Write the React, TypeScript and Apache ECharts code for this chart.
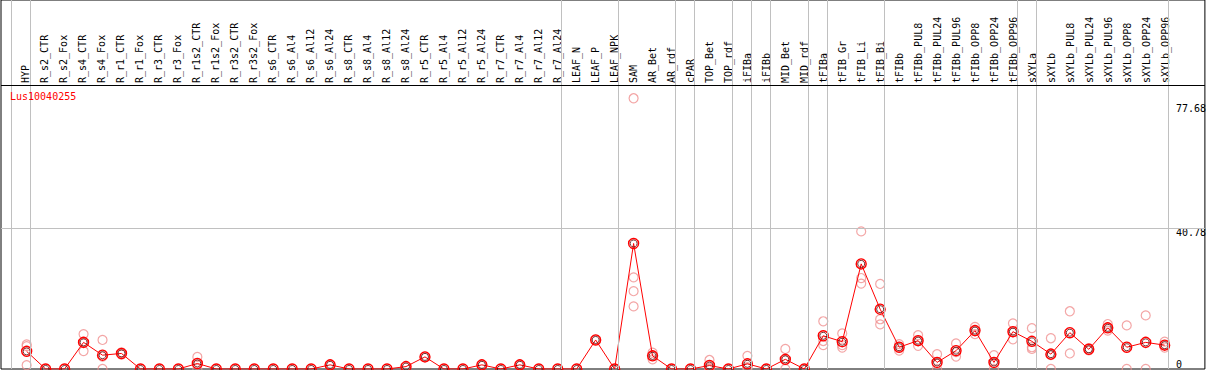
import React, { useEffect, useRef } from "react";
import * as echarts from "echarts";

const categories: string[] = [
  "HYP",
  "R_s2_CTR", "R_s2_Fox", "R_s4_CTR", "R_s4_Fox", "R_r1_CTR", "R_r1_Fox", "R_r3_CTR", "R_r3_Fox",
  "R_r1s2_CTR", "R_r1s2_Fox", "R_r3s2_CTR", "R_r3s2_Fox",
  "R_s6_CTR", "R_s6_Al4", "R_s6_Al12", "R_s6_Al24",
  "R_s8_CTR", "R_s8_Al4", "R_s8_Al12", "R_s8_Al24",
  "R_r5_CTR", "R_r5_Al4", "R_r5_Al12", "R_r5_Al24",
  "R_r7_CTR", "R_r7_Al4", "R_r7_Al12", "R_r7_Al24",
  "LEAF_N", "LEAF_P", "LEAF_NPK",
  "SAM", "AR_Bet", "AR_rdf",
  "cPAR",
  "TOP_Bet", "TOP_rdf",
  "iFIBa",
  "iFIBb",
  "MID_Bet", "MID_rdf",
  "tFIBa",
  "tFIB_Gr", "tFIB_Li", "tFIB_Bi",
  "tFIBb", "tFIBb_PUL8", "tFIBb_PUL24", "tFIBb_PUL96", "tFIBb_OPP8", "tFIBb_OPP24", "tFIBb_OPP96",
  "sXYLa",
  "sXYLb", "sXYLb_PUL8", "sXYLb_PUL24", "sXYLb_PUL96", "sXYLb_OPP8", "sXYLb_OPP24", "sXYLb_OPP96",
];

// number of categories in each tissue group (separators drawn after each group)
const groupSizes: number[] = [1, 28, 3, 3, 1, 2, 1, 1, 2, 1, 3, 7, 1, 7];

const means: number[] = [
  5.1,
  0, 0, 7.7, 4.0, 4.5, 0, 0, 0,
  1.6, 0, 0, 0,
  0, 0, 0, 1.2,
  0, 0, 0, 0.7,
  3.5, 0, 0, 1.2,
  0, 1.2, 0, 0,
  0, 8.4, 0,
  36.3, 3.8, 0,
  0,
  1.0, 0,
  1.5,
  0,
  2.8, 0,
  9.6,
  7.9, 30.4, 17.3,
  6.3, 8.2, 1.9, 5.3, 11.1, 1.9, 10.8,
  8.0,
  4.3, 10.5, 5.7, 11.9, 6.3, 7.7, 6.9,
];

const replicates: number[][] = [
  [7.1, 6.6, 1.1],
  [], [], [10.1, 7.8, 5.2], [8.4, 3.6, 0], [4.8, 4.5, 4.2], [], [], [],
  [3.5, 1.3, 0], [], [], [],
  [], [], [], [1.2],
  [], [], [], [0.7],
  [3.5], [], [], [1.2],
  [], [1.2], [], [],
  [], [8.4], [],
  [78.3, 26.5, 22.5, 18.1], [4.7, 3.8, 2.8], [],
  [],
  [2.6, 0.4, 0], [],
  [3.8, 0.5, 0.2],
  [],
  [5.8, 2.6, 0], [],
  [13.8, 8.1, 6.9],
  [10.3, 6.9, 6.2], [39.8, 26.3, 24.7], [24.6, 14.4, 12.9],
  [7.2, 6.4, 5.3], [9.8, 8.1, 6.7], [4.3, 1.5, 0], [7.4, 4.9, 3.6], [12.2, 11.0, 10.1], [4.0, 1.7, 0], [13.2, 10.6, 8.6],
  [11.8, 6.3, 5.8],
  [8.9, 4.0, 0], [16.7, 4.5], [6.0, 5.4], [13.0, 11.9, 11.1], [12.6, 0], [15.5, 0], [7.9, 6.9, 6.2],
];

const yTopLabel: number[] = [77.68];
const yMidLabel: number[] = [40.78];
const yZeroLabel: number[] = [0];
const gridValue = 40.78;
const geneName = "Lus10040255";

const MONO = "'DejaVu Sans Mono', 'Liberation Mono', monospace";
const X_MIN = -1.3526;
const X_MAX = 62.121;
const Y_MAX = 106.72;
const HEADER_VALUE = 82.13;
const SEP_OFFSET = 0.21;

export default function App() {
  const ref = useRef<HTMLDivElement>(null);
  useEffect(() => {
    if (!ref.current) return;
    const chart = echarts.init(ref.current, undefined, { renderer: "svg" });

    const sepValues: number[] = [-1 + SEP_OFFSET];
    let acc = 0;
    for (const g of groupSizes) {
      acc += g;
      sepValues.push(acc - 1 + SEP_OFFSET);
    }

    const meanData = means.map((v, i) => [i, v]);
    const repData: number[][] = [];
    replicates.forEach((arr, i) => arr.forEach((v) => repData.push([i, v])));

    const labelAxis = (values: number[], vAlign: string, padTop: number) => ({
      gridIndex: 0,
      type: "value",
      min: 0,
      max: Y_MAX,
      position: "right",
      axisLine: { show: false },
      axisTick: { show: false },
      splitLine: { show: false },
      axisLabel: {
        inside: true,
        align: "left",
        margin: 29,
        fontFamily: MONO,
        fontSize: 10,
        color: "#000",
        customValues: values,
        verticalAlign: vAlign,
        padding: [padTop, 0, 0, 0],
      },
    });

    chart.setOption({
      animation: false,
      backgroundColor: "#fff",
      title: {
        text: geneName,
        left: 10,
        top: 91,
        padding: 0,
        textStyle: { color: "#ff0000", fontSize: 10, fontWeight: "normal", fontFamily: MONO },
      },
      grid: [
        { left: 1, right: 2, top: 0, bottom: 1, show: true, borderColor: "#000", borderWidth: 1 },
        { left: 0, right: 3, top: 85, bottom: 1 },
      ],
      xAxis: [
        { gridIndex: 0, type: "value", min: X_MIN, max: X_MAX, show: false },
        {
          gridIndex: 1,
          type: "value",
          min: X_MIN,
          max: X_MAX,
          position: "top",
          axisLine: { show: false },
          axisTick: { show: false },
          splitLine: { show: false },
          axisLabel: {
            customValues: categories.map((_, i) => i),
            formatter: (v: number) => categories[Math.round(v)] ?? "",
            rotate: 90,
            margin: 2,
            fontFamily: MONO,
            fontSize: 10,
            color: "#000",
          },
        },
      ],
      yAxis: [
        { gridIndex: 0, type: "value", min: 0, max: Y_MAX, show: false },
        labelAxis(yTopLabel, "top", 3),
        labelAxis(yMidLabel, "top", 0),
        labelAxis(yZeroLabel, "bottom", 0),
        { gridIndex: 1, type: "value", show: false },
      ],
      series: [
        {
          type: "line",
          xAxisIndex: 0,
          yAxisIndex: 0,
          data: [],
          z: 1,
          silent: true,
          markLine: {
            silent: true,
            symbol: "none",
            animation: false,
            label: { show: false },
            lineStyle: { color: "#c0c0c0", width: 1, type: "solid" },
            data: [
              ...sepValues.map((v) => ({ xAxis: v })),
              { yAxis: gridValue },
              { yAxis: HEADER_VALUE, lineStyle: { color: "#000", width: 1, type: "solid" } },
            ],
          },
        },
        {
          type: "scatter",
          xAxisIndex: 0,
          yAxisIndex: 0,
          data: repData,
          symbol: "circle",
          symbolSize: 9,
          z: 2,
          itemStyle: { color: "rgba(0,0,0,0)", borderColor: "#f09090", borderWidth: 1.2 },
        },
        {
          type: "line",
          xAxisIndex: 0,
          yAxisIndex: 0,
          data: meanData,
          symbol: "circle",
          symbolSize: 10,
          showSymbol: true,
          z: 3,
          lineStyle: { color: "#ff0000", width: 1 },
          itemStyle: { color: "rgba(0,0,0,0)", borderColor: "#ff0000", borderWidth: 1.4 },
        },
        {
          type: "scatter",
          xAxisIndex: 0,
          yAxisIndex: 0,
          data: meanData,
          symbol: "circle",
          symbolSize: 7,
          z: 4,
          silent: true,
          itemStyle: { color: "rgba(0,0,0,0)", borderColor: "#500000", borderWidth: 1 },
        },
      ],
    });

    return () => chart.dispose();
  }, []);

  return (
    <div
      ref={ref}
      style={{ position: "absolute", left: 0, top: 0, width: 1209, height: 370 }}
    />
  );
}
